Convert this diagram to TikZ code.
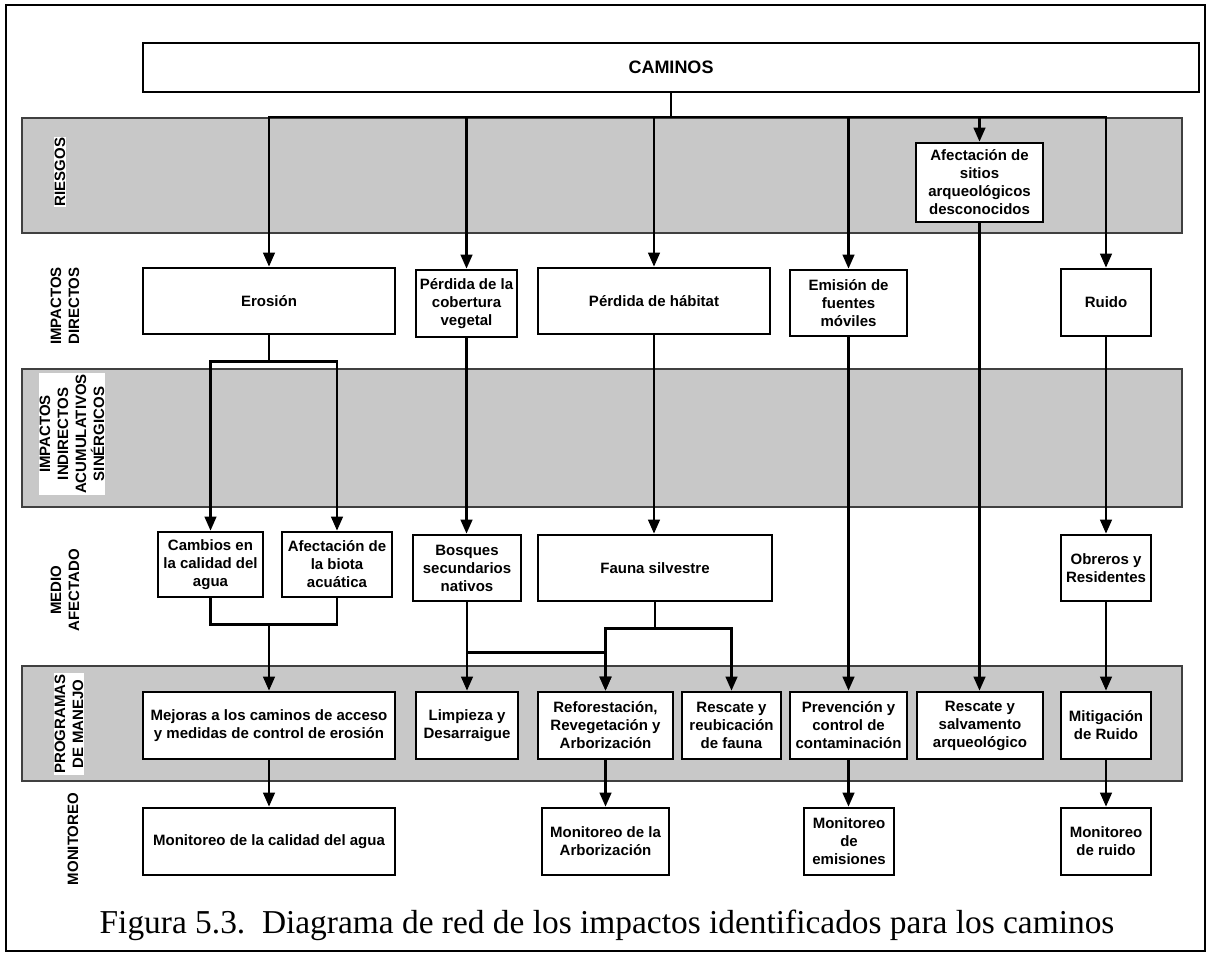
\documentclass[tikz,border=0pt]{standalone}
\usepackage{fontspec}
\setmainfont{Liberation Sans}
\newfontfamily\capfont{Liberation Serif}
\usetikzlibrary{arrows.meta}
\definecolor{bandgray}{RGB}{200,200,200}
\newcommand\mybox[6]{\node[box, minimum width=#4pt, minimum height=#5pt] (#1) at (#2,#3) {#6};}
\begin{document}
\begin{tikzpicture}[x=1pt,y=-1pt,
  font=\bfseries\fontsize{15}{18}\selectfont,
  box/.style={draw, line width=2.6pt, fill=white, align=center, inner sep=0pt},
  band/.style={draw=black!75, fill=bandgray, line width=1.1pt},
  lab/.style={rotate=90, align=center, fill=white, inner sep=1pt},
  conn/.style={line width=2.5pt},
  arr/.style={conn, -{Triangle[length=14pt,width=11.5pt]}}]
\useasboundingbox (0,0) rectangle (1206,953);
\draw[line width=2pt] (6,5) rectangle (1205,951);
% bands
\draw[band] (22,118) rectangle (1182,233);
\draw[band] (22,369) rectangle (1182,507);
\draw[band] (22,666) rectangle (1182,781);
% row labels
\node[lab] (lriesgos) at (60,172) {RIESGOS};
\node[lab] (ldirectos) at (65,306) {IMPACTOS\\DIRECTOS};
\node[lab] (lindirectos) at (72,434) {IMPACTOS\\INDIRECTOS\\ACUMULATIVOS\\SINÉRGICOS};
\node[lab] (lmedio) at (65,590) {MEDIO\\AFECTADO};
\node[lab] (lprog) at (69,724) {PROGRAMAS\\DE MANEJO};
\node[lab] (lmon) at (73,839) {MONITOREO};
% top
\node[box, line width=2.2pt, minimum width=1056pt, minimum height=49pt, font=\bfseries\fontsize{18}{22}\selectfont] (caminos) at (671,67.5) {CAMINOS};
% riesgos
\mybox{afect}{979.5}{182.5}{127}{79}{Afectación de\\sitios\\arqueológicos\\desconocidos}
% impactos directos
\mybox{eros}{269}{301}{252}{66}{Erosión}
\mybox{cob}{466.5}{303.5}{101}{67}{Pérdida de la\\cobertura\\vegetal}
\mybox{hab}{654}{301}{232}{66}{Pérdida de hábitat}
\mybox{emi}{848.5}{303}{117}{66}{Emisión de\\fuentes\\móviles}
\mybox{rui}{1106}{302.5}{90}{67}{Ruido}
% medio afectado
\mybox{cam}{210.5}{564.5}{105}{65}{Cambios en\\la calidad del\\agua}
\mybox{bio}{337}{564.5}{110}{65}{Afectación de\\la biota\\acuática}
\mybox{bos}{467}{568}{108}{66}{Bosques\\secundarios\\nativos}
\mybox{fau}{655}{568}{234}{66}{Fauna silvestre}
\mybox{obr}{1106}{568}{90}{66}{Obreros y\\Residentes}
% programas
\mybox{mej}{269}{725.5}{252}{67}{Mejoras a los caminos de acceso\\y medidas de control de erosión}
\mybox{lim}{467}{725.5}{102}{67}{Limpieza y\\Desarraigue}
\mybox{ref}{605.5}{725.5}{135}{67}{Reforestación,\\Revegetación y\\Arborización}
\mybox{res}{731.5}{725.5}{99}{67}{Rescate y\\reubicación\\de fauna}
\mybox{pre}{848.5}{725.5}{117}{67}{Prevención y\\control de\\contaminación}
\mybox{arq}{980}{725.5}{126}{67}{Rescate y\\salvamento\\arqueológico}
\mybox{mit}{1106}{725.5}{90}{67}{Mitigación\\de Ruido}
% monitoreo
\mybox{mag}{269}{841.5}{252}{67}{Monitoreo de la calidad del agua}
\mybox{mar}{605.5}{841.5}{127}{67}{Monitoreo de la\\Arborización}
\mybox{mem}{849}{841.5}{90}{67}{Monitoreo\\de\\emisiones}
\mybox{mru}{1106}{841.5}{90}{67}{Monitoreo\\de ruido}
% connectors
\coordinate (bus) at (0,117);
\coordinate (j1) at (0,623);
\foreach \n in {eros,cob,hab,emi,afect,rui}
  \draw[arr] (caminos.south) -- (caminos.south |- bus) -| (\n.north);
\draw[arr] (eros.south) -- ++(0,26) -| (cam.north);
\draw[arr] (eros.south) -- ++(0,26) -| (bio.north);
\draw[arr] (cob.south) -- (cob.south |- bos.north);
\draw[arr] (hab.south) -- (hab.south |- fau.north);
\draw[arr] (emi.south) -- (emi.south |- pre.north);
\draw[arr] (afect.south) -- (afect.south |- arq.north);
\draw[arr] (rui.south) -- (rui.south |- obr.north);
\draw[conn] (cam.south) -- ++(0,26) -| (bio.south);
\draw[arr] (mej.north |- j1) -- (mej.north);
\draw[arr] (bos.south) -- (bos.south |- lim.north);
\draw[arr] (bos.south) -- ++(0,50) -| (ref.north);
\draw[arr] (fau.south) -- ++(0,26) -| (ref.north);
\draw[arr] (fau.south) -- ++(0,26) -| (res.north);
\draw[arr] (obr.south) -- (obr.south |- mit.north);
\draw[arr] (mej.south) -- (mej.south |- mag.north);
\draw[arr] (ref.south) -- (ref.south |- mar.north);
\draw[arr] (pre.south) -- (pre.south |- mem.north);
\draw[arr] (mit.south) -- (mit.south |- mru.north);
% caption
\node[font=\capfont\mdseries\fontsize{33.4}{36}\selectfont, anchor=base, inner sep=0pt] (cap) at (607,933) {Figura 5.3.\ \ Diagrama de red de los impactos identificados para los caminos};
\end{tikzpicture}
\end{document}
